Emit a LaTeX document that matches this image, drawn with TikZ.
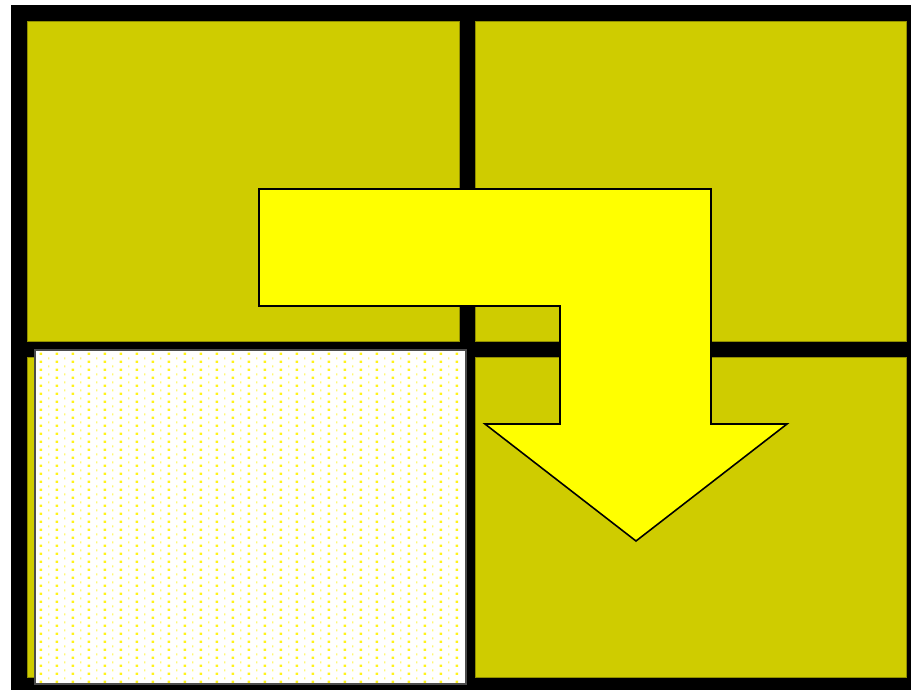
\documentclass[tikz,border=0pt]{standalone}
\usetikzlibrary{patterns}
\definecolor{paneloil}{RGB}{207,204,0}
\definecolor{arrowyel}{RGB}{255,255,0}
% dotted sheet: bright dots and faint dots, staggered
\pgfdeclarepatterninherentlycolored{sheetdots}{\pgfpointorigin}{\pgfqpoint{4.552pt}{2.276pt}}{\pgfqpoint{4.552pt}{2.276pt}}{
  \pgfsetfillcolor{yellow!90}
  \pgfpathrectangle{\pgfqpoint{2.276pt}{0pt}}{\pgfqpoint{0.75pt}{0.75pt}}
  \pgfusepath{fill}
  \pgfsetfillcolor{yellow!55}
  \pgfpathrectangle{\pgfqpoint{0pt}{1.138pt}}{\pgfqpoint{0.4pt}{0.65pt}}
  \pgfusepath{fill}
}
\begin{document}
\begin{tikzpicture}[x=0.01cm,y=-0.01cm,
  panel/.style={fill=paneloil,draw=paneloil!70!black,line width=0.25pt},
  sheet/.style={fill=white,draw=black!70,line width=0.4pt},
  bentarrow/.style={fill=arrowyel,draw=black,line width=0.45pt,line join=miter}]
  \useasboundingbox (0,0) rectangle (911,690);
  \fill[black] (11,5) rectangle (911,690);
  \draw[panel] (27,21) rectangle (459,341);
  \draw[panel] (475,21) rectangle (906,341);
  \draw[panel] (27,357) rectangle (459,677);
  \draw[panel] (475,357) rectangle (906,677);
  \draw[sheet] (35,350) rectangle (466,684);
  \fill[pattern=sheetdots] (37,352) rectangle (464,682);
  \draw[bentarrow] (259,189) -- (711,189) -- (711,424) -- (787,424)
    -- (636,541) -- (485,424) -- (560,424) -- (560,306) -- (259,306) -- cycle;
\end{tikzpicture}
\end{document}
